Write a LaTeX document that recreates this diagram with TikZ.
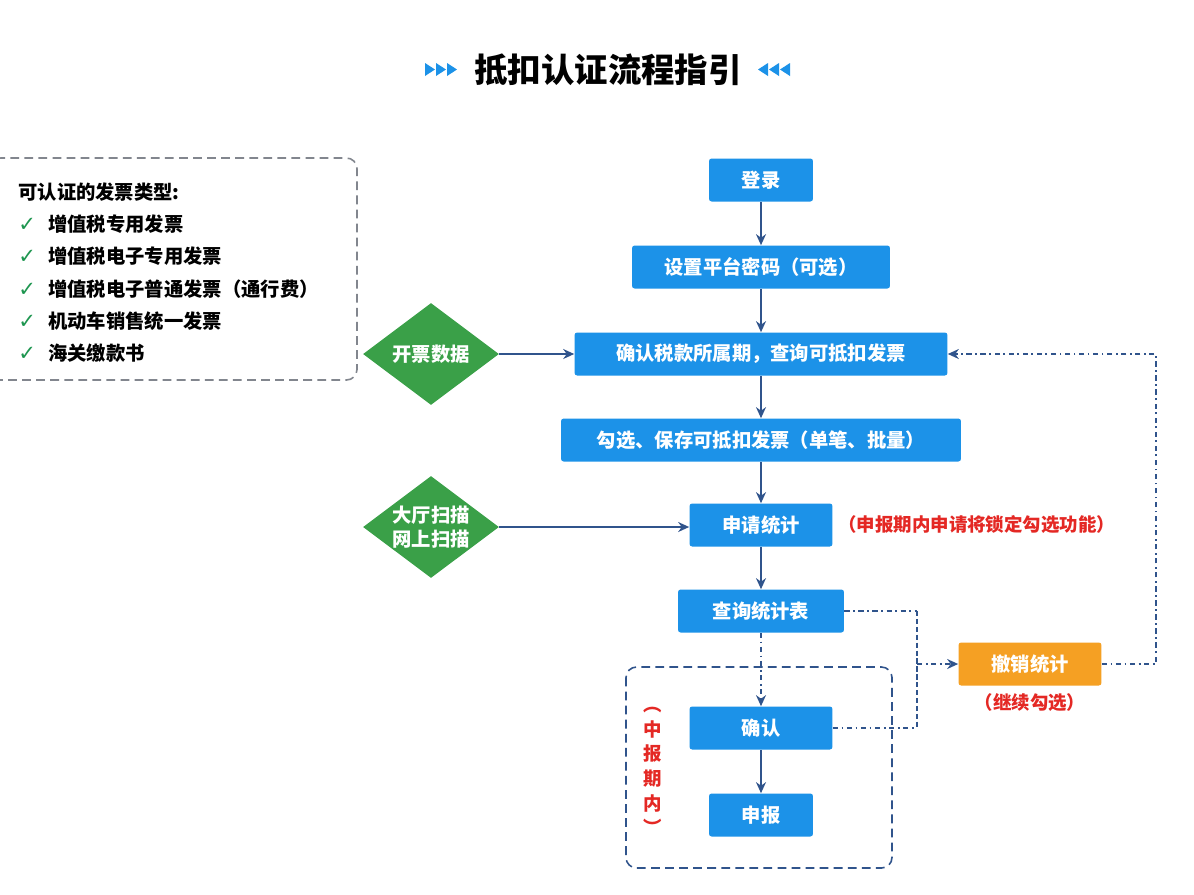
\documentclass[tikz,border=0pt]{standalone}
\usepackage{fontspec}
\setmainfont{Noto Sans CJK SC}
\newfontfamily\symfont{DejaVu Sans}
\usetikzlibrary{shapes.geometric,arrows.meta,positioning}
\definecolor{boxblue}{RGB}{28,146,232}
\definecolor{diagreen}{RGB}{58,160,72}
\definecolor{revokeorange}{RGB}{245,160,35}
\definecolor{notered}{RGB}{228,40,36}
\definecolor{linkblue}{RGB}{48,84,140}
\definecolor{framegray}{RGB}{130,134,142}
\definecolor{checkgreen}{RGB}{30,150,80}

\begin{document}
\begin{tikzpicture}
        [
            x = 0.02cm, y = -0.02cm,
            stepbox/.style = {fill = boxblue, text = white, font = \bfseries\fontsize{11}{13}\selectfont,
                    minimum height = 0.86cm, inner sep = 0pt, rounded corners = 1.5pt},
            decision/.style = {diamond, fill = diagreen, text = white, font = \bfseries\fontsize{11}{14}\selectfont,
                    minimum width = 2.72cm, minimum height = 2.04cm, inner sep = -3pt, align = center},
            redtext/.style = {text = notered, font = \bfseries\fontsize{10.5}{13}\selectfont, inner sep = 0pt},
            flow/.style = {draw = linkblue, line width = 0.9pt, -{Stealth[length = 2.2mm, width = 2mm]}},
            dotflow/.style = {draw = linkblue, line width = 0.9pt, dash pattern = on 3pt off 2pt on 1pt off 2pt},
            densedash/.style = {draw = linkblue, line width = 1.6pt, dash pattern = on 3pt off 1.5pt},
            groupbox/.style = {draw = linkblue, line width = 0.9pt, dash pattern = on 5pt off 3pt, rounded corners = 6pt},
            listbox/.style = {draw = framegray, line width = 0.9pt, dash pattern = on 5pt off 3pt, rounded corners = 6pt},
        ]

        \useasboundingbox[fill = white] (0,0) rectangle (1194,894);

        \node[font = \bfseries\fontsize{19}{22}\selectfont] (title) at (608,70) {抵扣认证流程指引};
        \foreach \i in {0,1,2} {
                \fill[boxblue] (425+11*\i,63) -- (435+11*\i,69.5) -- (425+11*\i,76) -- cycle;
                \fill[boxblue] (790-11*\i,63) -- (780-11*\i,69.5) -- (790-11*\i,76) -- cycle;
            }

        \draw[listbox] (-10,158) rectangle (357,380);
        \node[anchor = north west, align = left, inner sep = 0pt, font = \bfseries\fontsize{11}{18.4}\selectfont] (types) at (18,182) {
                可认证的发票类型:\\
                \makebox[17pt][l]{\color{checkgreen}\symfont\fontsize{12}{12}\selectfont ✓}增值税专用发票\\
                \makebox[17pt][l]{\color{checkgreen}\symfont\fontsize{12}{12}\selectfont ✓}增值税电子专用发票\\
                \makebox[17pt][l]{\color{checkgreen}\symfont\fontsize{12}{12}\selectfont ✓}增值税电子普通发票（通行费）\\
                \makebox[17pt][l]{\color{checkgreen}\symfont\fontsize{12}{12}\selectfont ✓}机动车销售统一发票\\
                \makebox[17pt][l]{\color{checkgreen}\symfont\fontsize{12}{12}\selectfont ✓}海关缴款书
            };

        \node[stepbox, minimum width = 2.08cm] (login) at (761,180) {登录};
        \node[stepbox, minimum width = 5.16cm] (pwd) at (761,267) {设置平台密码（可选）};
        \node[stepbox, minimum width = 7.46cm] (period) at (761,354) {确认税款所属期，查询可抵扣发票};
        \node[stepbox, minimum width = 8cm] (select) at (761,440) {勾选、保存可抵扣发票（单笔、批量）};
        \node[stepbox, minimum width = 2.86cm] (apply) at (761,525) {申请统计};
        \node[stepbox, minimum width = 3.32cm] (query) at (761,611) {查询统计表};
        \node[stepbox, minimum width = 2.86cm] (confirm) at (761,728) {确认};
        \node[stepbox, minimum width = 2.08cm] (declare) at (761,815) {申报};
        \node[stepbox, fill = revokeorange, minimum width = 2.86cm] (revoke) at (1030,664) {撤销统计};

        \node[redtext] (goon) at (1030,703) {（继续勾选）};
        \node[redtext, anchor = west] (locknote) at (838,525) {（申报期内申请将锁定勾选功能）};
        \node[redtext, align = center, font = \bfseries\fontsize{10.5}{14}\selectfont] (inperiod) at (653,771) {︵\\中\\报\\期\\内\\︶};

        \node[decision] (invdata) at (431,354) {开票数据};
        \node[decision] (scan) at (431,527) {大厅扫描\\网上扫描};

        \draw[groupbox] (626,667) rectangle (892,868);

        \draw[flow] (login) -- (pwd);
        \draw[flow] (pwd) -- (period);
        \draw[flow] (period) -- (select);
        \draw[flow] (select) -- (apply);
        \draw[flow] (apply) -- (query);
        \draw[flow] (confirm) -- (declare);
        \draw[flow] (invdata) -- (period);
        \draw[flow] (scan.east) -- (scan.east -| apply.west);
        \draw[flow, dotflow] (query) -- (confirm);

        \coordinate (turn) at (917,664);
        \draw[dotflow] (query.east) -- (query.east -| turn);
        \draw[dotflow] (confirm.east) -- (confirm.east -| turn);
        \draw[densedash] (query.east -| turn) -- (confirm.east -| turn);
        \draw[flow, dotflow] (turn) -- (revoke);
        \draw[flow, dotflow] (revoke.east) -- ++(54,0) |- (period.east);

    \end{tikzpicture}
\end{document}
